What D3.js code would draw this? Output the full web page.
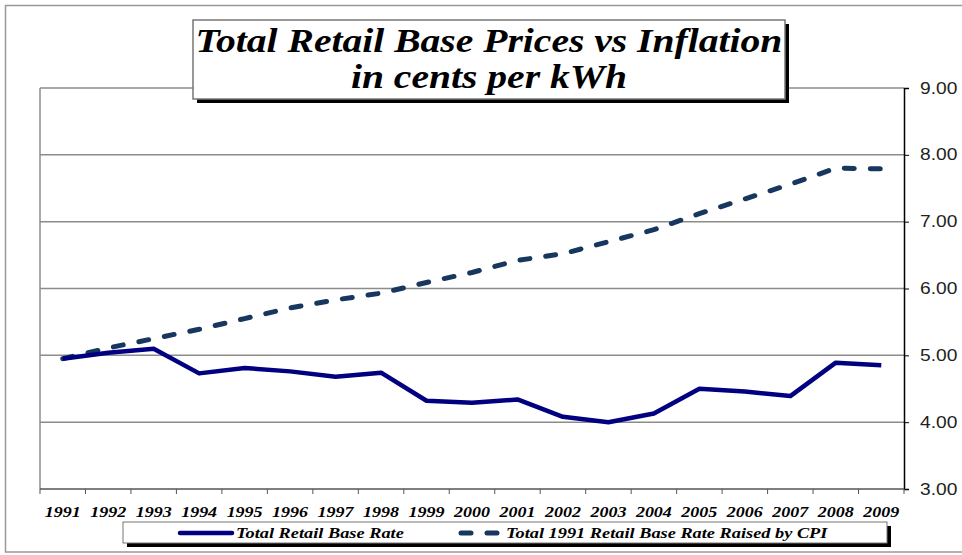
<!DOCTYPE html>
<html>
<head>
<meta charset="utf-8">
<script src="https://cdn.jsdelivr.net/npm/d3@7/dist/d3.min.js"></script>
</head>
<body style="margin:0">
<script>
// data
const years = ["1991","1992","1993","1994","1995","1996","1997","1998","1999","2000",
               "2001","2002","2003","2004","2005","2006","2007","2008","2009"];
const baseRate = [4.95, 5.04, 5.10, 4.73, 4.81, 4.76, 4.68, 4.74, 4.32, 4.29,
                  4.34, 4.08, 4.00, 4.13, 4.50, 4.46, 4.39, 4.89, 4.85];
const cpiRate = [4.95, 5.11, 5.25, 5.39, 5.55, 5.71, 5.83, 5.93, 6.09, 6.24,
                 6.42, 6.52, 6.70, 6.88, 7.12, 7.34, 7.56, 7.80, 7.79];
const yTicks = [3, 4, 5, 6, 7, 8, 9];
const seriesNames = ["Total Retail Base Rate", "Total 1991 Retail Base Rate Raised by CPI"];
const titleLines = ["Total Retail Base Prices vs Inflation", "in cents per kWh"];

const W = 962, H = 555;
const plot = { left: 40, right: 904, top: 88, bottom: 489 };

const svg = d3.select("body").append("svg")
    .attr("width", W)
    .attr("height", H)
    .style("display", "block");

// centre a stretched text by measuring it (no text-anchor)
function centerAt(sel, cx, y, sx, sy) {
    sel.attr("transform", function () {
        const w = this.getComputedTextLength() * sx;
        return "translate(" + (cx - w / 2) + "," + y + ") scale(" + sx + "," + sy + ")";
    });
}

// outer frame
svg.append("rect")
    .attr("x", 5.5).attr("y", 5.5)
    .attr("width", 980).attr("height", 546.5)
    .attr("fill", "none").attr("stroke", "#999").attr("stroke-width", 1.5);

const xBand = d3.scaleBand().domain(years).range([plot.left, plot.right]).padding(0);
const xPos = d => xBand(d) + xBand.bandwidth() / 2;
const yScale = d3.scaleLinear().domain([3, 9]).range([plot.bottom, plot.top]);

// gridlines
svg.append("g")
    .selectAll("line")
    .data(yTicks.filter(t => t > 3))
    .join("line")
    .attr("x1", plot.left).attr("x2", plot.right)
    .attr("y1", d => yScale(d)).attr("y2", d => yScale(d))
    .attr("stroke", "#8c8c8c").attr("stroke-width", 1.5);

// left plot border
svg.append("line")
    .attr("x1", plot.left).attr("x2", plot.left)
    .attr("y1", plot.top).attr("y2", plot.bottom)
    .attr("stroke", "#8c8c8c").attr("stroke-width", 1.5);

// right axis
const axisY = d3.axisRight(yScale)
    .tickValues(yTicks)
    .tickSize(5)
    .tickFormat(d3.format(".2f"));
const gy = svg.append("g")
    .attr("transform", "translate(" + plot.right + ",0)")
    .call(axisY);
gy.attr("font-family", "Liberation Sans").attr("font-size", 16);
gy.select(".domain").attr("stroke", "#000").attr("stroke-width", 1.5);
gy.selectAll(".tick line").attr("stroke", "#000");
gy.selectAll(".tick text")
    .attr("x", 16)
    .attr("fill", "#222")
    .attr("transform", "translate(16,0) scale(1.2,1) translate(-16,0)");

// bottom axis
const gx = svg.append("g").attr("transform", "translate(0," + plot.bottom + ")");
gx.append("line")
    .attr("x1", plot.left).attr("x2", plot.right)
    .attr("stroke", "#555").attr("stroke-width", 1.5);
gx.selectAll(".tk")
    .data(years.concat(["end"]))
    .join("line")
    .attr("class", "tk")
    .attr("x1", d => d === "end" ? plot.right : xBand(d))
    .attr("x2", d => d === "end" ? plot.right : xBand(d))
    .attr("y1", 0).attr("y2", 5)
    .attr("stroke", "#555");
gx.selectAll(".lbl")
    .data(years)
    .join("text")
    .attr("class", "lbl")
    .attr("font-family", "Times New Roman")
    .attr("font-weight", "bold")
    .attr("font-style", "italic")
    .attr("font-size", 15)
    .text(d => d)
    .each(function (d) { centerAt(d3.select(this), xPos(d), 28, 1.2, 1); });

// lines
const line = d3.line()
    .x((d, i) => xPos(years[i]))
    .y(d => yScale(d));

svg.append("path")
    .datum(cpiRate)
    .attr("fill", "none")
    .attr("stroke", "#17375e")
    .attr("stroke-width", 5)
    .attr("stroke-linecap", "round")
    .attr("stroke-dasharray", "10,16")
    .attr("d", line);

svg.append("path")
    .datum(baseRate)
    .attr("fill", "none")
    .attr("stroke", "#000080")
    .attr("stroke-width", 4.5)
    .attr("stroke-linejoin", "round")
    .attr("d", line);

// title box
const tb = { x: 193, y: 20, w: 592, h: 79 };
svg.append("rect")
    .attr("x", tb.x + 4).attr("y", tb.y + 4)
    .attr("width", tb.w).attr("height", tb.h)
    .attr("fill", "#000");
svg.append("rect")
    .attr("x", tb.x).attr("y", tb.y)
    .attr("width", tb.w).attr("height", tb.h)
    .attr("fill", "#fff").attr("stroke", "#777").attr("stroke-width", 1.5);
svg.selectAll(".title")
    .data(titleLines)
    .join("text")
    .attr("class", "title")
    .attr("font-family", "Times New Roman")
    .attr("font-weight", "bold")
    .attr("font-style", "italic")
    .attr("font-size", 30)
    .text(d => d)
    .each(function (d, i) { centerAt(d3.select(this), tb.x + tb.w / 2, 52 + i * 36, 1.32, 1.1); });

// legend box
const lb = { x: 123, y: 522, w: 764, h: 21 };
svg.append("rect")
    .attr("x", lb.x + 4).attr("y", lb.y + 4)
    .attr("width", lb.w).attr("height", lb.h)
    .attr("fill", "#000");
svg.append("rect")
    .attr("x", lb.x).attr("y", lb.y)
    .attr("width", lb.w).attr("height", lb.h)
    .attr("fill", "#fff").attr("stroke", "#777").attr("stroke-width", 1);

const legendItems = [
    { name: seriesNames[0], x1: 180, x2: 232, tx: 236, color: "#000080", dash: null, width: 4.5 },
    { name: seriesNames[1], x1: 461, x2: 499, tx: 506, color: "#17375e", dash: "10,16", width: 5 }
];
const lg = svg.append("g").selectAll("g").data(legendItems).join("g");
lg.append("line")
    .attr("x1", d => d.x1).attr("x2", d => d.x2)
    .attr("y1", lb.y + 11).attr("y2", lb.y + 11)
    .attr("stroke", d => d.color)
    .attr("stroke-width", d => d.width)
    .attr("stroke-linecap", "round")
    .attr("stroke-dasharray", d => d.dash);
lg.append("text")
    .attr("transform", d => "translate(" + d.tx + "," + (lb.y + 16) + ") scale(1.31,1)")
    .attr("font-family", "Liberation Serif")
    .attr("font-weight", "bold")
    .attr("font-style", "italic")
    .attr("font-size", 14)
    .text(d => d.name);
</script>
</body>
</html>
